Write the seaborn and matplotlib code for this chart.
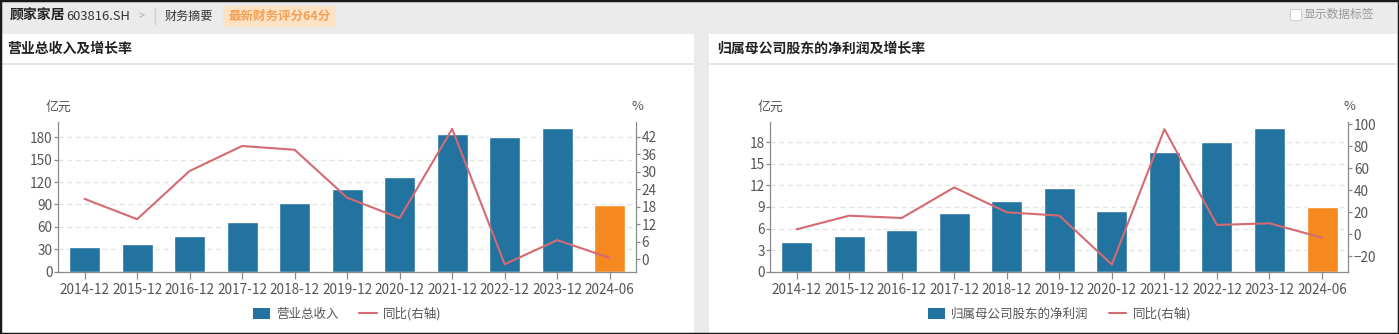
import numpy as np
import pandas as pd
import matplotlib
matplotlib.use("Agg")
import matplotlib.pyplot as plt
import seaborn as sns
from matplotlib.patches import Rectangle, Patch, FancyBboxPatch
from matplotlib.lines import Line2D

# ---------------- data ----------------
periods = ["2014-12", "2015-12", "2016-12", "2017-12", "2018-12", "2019-12",
           "2020-12", "2021-12", "2022-12", "2023-12", "2024-06"]
revenue = [32.7, 36.7, 48.2, 66.6, 91.3, 110.5, 126.6, 184.0, 180.0, 192.0, 89.3]
revenue_yoy = [20.7, 13.7, 30.3, 38.9, 37.6, 21.1, 14.1, 44.8, -1.8, 6.5, 0.4]
profit = [4.17, 4.96, 5.75, 8.16, 9.9, 11.6, 8.45, 16.6, 18.08, 20.03, 8.95]
profit_yoy = [4.5, 16.9, 14.8, 42.6, 20.0, 17.0, -27.5, 95.5, 8.5, 10.0, -3.1]

rev_ticks = [0, 30, 60, 90, 120, 150, 180]
rev_yoy_ticks = [0, 6, 12, 18, 24, 30, 36, 42]
prof_ticks = [0, 3, 6, 9, 12, 15, 18]
prof_yoy_ticks = [-20, 0, 20, 40, 60, 80, 100]

# ---------------- style ----------------
sns.set_theme(style="white")
plt.rcParams['font.family'] = ['Noto Sans CJK SC', 'DejaVu Sans']

W, H = 1399, 334
fig = plt.figure(figsize=(W / 100, H / 100), dpi=100)
fig.patch.set_facecolor("#ebebeb")

BLUE = "#22739f"
ORANGE = "#f5891f"
RED = "#d46a72"
AXC = "#8a8a8a"
TXT = "#555555"
TICK_FS = 9.8


def fx(x):
    return x / W


def fy(y):
    return 1 - y / H


def box(x0, y0, x1, y1, zorder=-2, **kw):
    fig.add_artist(Rectangle((fx(x0), fy(y1)), fx(x1) - fx(x0), fy(y0) - fy(y1),
                             transform=fig.transFigure, zorder=zorder, **kw))


# panels
box(2, 34, 694, 334, facecolor="white", edgecolor="none")
box(709, 34, 1397, 334, facecolor="white", edgecolor="none")
for a, b in [(2, 694), (709, 1397)]:
    fig.add_artist(Line2D([fx(a), fx(b)], [fy(64), fy(64)], color="#e2e2e2", lw=1.2,
                          transform=fig.transFigure, zorder=-1))

# header
fig.text(fx(10), fy(16), "顾家家居", fontsize=10, fontweight="bold", color="#222222", va="center")
fig.text(fx(66), fy(16), "603816.SH", fontsize=9.3, color="#333333", va="center")
fig.text(fx(139), fy(16), ">", fontsize=8, color="#b0b0b0", va="center")
fig.add_artist(Line2D([fx(155), fx(155)], [fy(8), fy(24)], color="#cfcfcf", lw=1,
                      transform=fig.transFigure))
fig.text(fx(165), fy(16), "财务摘要", fontsize=8.7, color="#333333", va="center")
fig.add_artist(FancyBboxPatch((fx(223), fy(27)), fx(336) - fx(223), fy(6) - fy(27),
                              boxstyle="round,pad=0,rounding_size=0.004",
                              transform=fig.transFigure, facecolor="#fde2c6", edgecolor="none",
                              zorder=-1))
fig.text(fx(229), fy(16), "最新财务评分64分", fontsize=9, fontweight="bold", color="#f4a055", va="center")
box(1290, 9, 1301, 20, zorder=1, facecolor="white", edgecolor="#d0d0d0", lw=0.8)
fig.text(fx(1304), fy(14), "显示数据标签", fontsize=8.5, color="#9a9a9a", va="center")

# panel titles
fig.text(fx(7), fy(49), "营业总收入及增长率", fontsize=10, fontweight="bold", color="#222222", va="center")
fig.text(fx(717), fy(49), "归属母公司股东的净利润及增长率", fontsize=10, fontweight="bold", color="#222222", va="center")


def make_chart(x0, x1, values, yoy, ylim, ylim2, ticks, ticks2, bar_label):
    ax = fig.add_axes([fx(x0), fy(271.7), fx(x1) - fx(x0), fy(122.3) - fy(271.7)])
    ax.set_facecolor("none")
    df = pd.DataFrame({"period": periods, "value": values})
    colors = [BLUE] * (len(periods) - 1) + [ORANGE]
    sns.barplot(data=df, x="period", y="value", hue="period", palette=colors,
                legend=False, width=0.59, ax=ax, saturation=1)
    ax.set_xlim(-0.5, len(periods) - 0.5)
    ax.set_ylim(*ylim)
    ax.set_yticks(ticks)
    ax.set_xlabel("")
    ax.set_ylabel("")
    ax.yaxis.grid(True, linestyle=(0, (4, 3)), color="#e3e3e3", lw=0.9)
    ax.set_axisbelow(True)
    for s in ["top", "right"]:
        ax.spines[s].set_visible(False)
    for s in ["left", "bottom"]:
        ax.spines[s].set_color(AXC)
        ax.spines[s].set_linewidth(0.9)
    ax.tick_params(axis="y", direction="out", length=3, width=0.9, color=AXC,
                   labelsize=TICK_FS, labelcolor=TXT, pad=1, left=True)
    ax.tick_params(axis="x", direction="out", length=5, width=0.9, color=AXC,
                   labelsize=TICK_FS, labelcolor=TXT, pad=3, bottom=True)

    ax2 = ax.twinx()
    sns.lineplot(x=np.arange(len(periods)), y=yoy, color=RED, lw=1.5, ax=ax2)
    ax2.set_ylim(*ylim2)
    ax2.set_yticks(ticks2)
    ax2.set_xlim(-0.5, len(periods) - 0.5)
    for s in ["top", "left", "bottom"]:
        ax2.spines[s].set_visible(False)
    ax2.spines["right"].set_color(AXC)
    ax2.spines["right"].set_linewidth(0.9)
    ax2.tick_params(axis="y", direction="out", length=3, width=0.9, color=AXC,
                    labelsize=TICK_FS, labelcolor=TXT, pad=1, right=True)
    ax2.grid(False)

    fig.text(fx(x0 - 13), fy(107), "亿元", fontsize=9.3, color=TXT, va="center")
    fig.text(fx(x1 + 1), fy(107), "%", fontsize=9.3, color=TXT, va="center", ha="center")

    handles = [Patch(facecolor=BLUE, edgecolor="none"),
               Line2D([0], [0], color=RED, lw=1.5)]
    ax.legend(handles, [bar_label, "同比(右轴)"], loc="center",
              bbox_to_anchor=(0.5, (fy(314) - fy(271.7)) / (fy(122.3) - fy(271.7))),
              ncol=2, frameon=False, fontsize=9, labelcolor=TXT,
              handlelength=1.4, handleheight=0.9, columnspacing=1.6, handletextpad=0.5)
    return ax, ax2


make_chart(58.3, 636.0, revenue, revenue_yoy, (0, 200), (-4.37, 47.06),
           rev_ticks, rev_yoy_ticks, "营业总收入")
make_chart(770.3, 1348.3, profit, profit_yoy, (0, 20.78), (-34, 101.8),
           prof_ticks, prof_yoy_ticks, "归属母公司股东的净利润")

# outer dark frame
fig.add_artist(Rectangle((0, 0), 1, 1, transform=fig.transFigure, fill=False,
                         edgecolor="#1a1a1a", lw=2.5))

fig.savefig("out.png", dpi=100, facecolor=fig.get_facecolor())
